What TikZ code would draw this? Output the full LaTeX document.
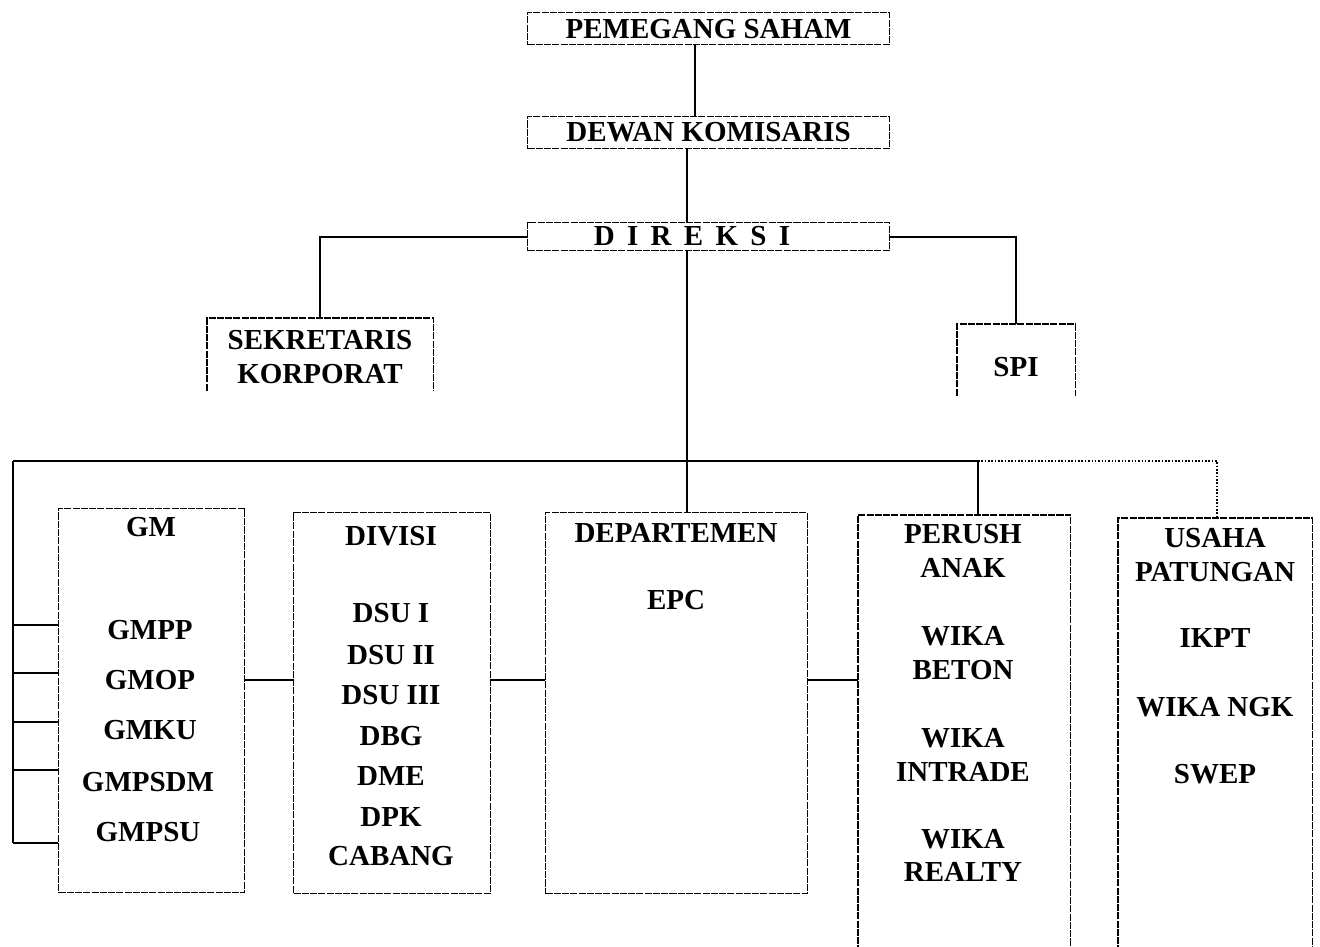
\documentclass[tikz,border=0pt]{standalone}
\usepackage{fontspec}
\setmainfont{Liberation Serif}
\begin{document}
\begin{tikzpicture}[x=0.02cm,y=-0.02cm,font=\fontsize{16.5}{16.5}\bfseries,
  caja/.style={draw,line width=0.7pt,dash pattern=on 4pt off 0.7pt,inner sep=0pt,anchor=north west},
  abierta/.style={inner sep=0pt,anchor=north west},
  borde/.style={line width=0.7pt,dash pattern=on 4pt off 0.7pt},
  linea/.style={line width=1.1pt}]
\useasboundingbox (0,0) rectangle (1320,947);
% Ejes
\coordinate (ejeA) at (695,0);
\coordinate (ejeB) at (687,0);
\coordinate (busL) at (13,461);
\coordinate (busP) at (978,461);
\coordinate (busU) at (1217,461);
\coordinate (enlace) at (0,680);
% Cajas superiores
\node[caja,minimum width=7.24cm,minimum height=0.64cm] (pemegang) at (527,12) {};
\node (tpemegang) at (pemegang) {PEMEGANG SAHAM};
\node[caja,minimum width=7.24cm,minimum height=0.64cm] (dewan) at (527,116) {};
\node (tdewan) at (dewan) {DEWAN KOMISARIS};
\node[caja,minimum width=7.24cm,minimum height=0.56cm] (direksi) at (527,222) {};
\node (tdireksi) at (692,236) {\spaceskip=7pt D I R E K S I};
% Staf
\node[abierta,minimum width=4.52cm,minimum height=1.44cm] (sek) at (207,318) {};
\draw[borde] (sek.south west) -- (sek.north west) -- (sek.north east) -- (sek.south east);
\node (tsek1) at (320,340) {SEKRETARIS};
\node (tsek2) at (320,374) {KORPORAT};
\node[abierta,minimum width=2.36cm,minimum height=1.42cm] (spi) at (957,324) {};
\draw[borde] (spi.south west) -- (spi.north west) -- (spi.north east) -- (spi.south east);
\node (tspi) at (1016,367) {SPI};
% Cajas inferiores
\node[caja,minimum width=3.72cm,minimum height=7.68cm] (gm) at (58,508) {};
\node[caja,minimum width=3.94cm,minimum height=7.62cm] (divisi) at (293,512) {};
\node[caja,minimum width=5.24cm,minimum height=7.62cm] (dept) at (545,512) {};
\node[abierta,minimum width=4.24cm,minimum height=8.9cm] (perush) at (858,515) {};
\draw[borde] (perush.south west) -- (perush.north west) -- (perush.north east) -- (perush.south east);
\node[abierta,minimum width=3.88cm,minimum height=8.84cm] (usaha) at (1118,518) {};
\draw[borde] (usaha.south west) -- (usaha.north west) -- (usaha.north east) -- (usaha.south east);
% Textos GM
\node (tgm) at (151,527) {GM};
\node (tgmpp) at (150,630) {GMPP};
\node (tgmop) at (150,680) {GMOP};
\node (tgmku) at (150,730) {GMKU};
\node (tgmpsdm) at (148,782) {GMPSDM};
\node (tgmpsu) at (148,832) {GMPSU};
% Textos DIVISI
\node (tdivisi) at (391,536) {DIVISI};
\node (tdsu1) at (391,613) {DSU I};
\node (tdsu2) at (391,655) {DSU II};
\node (tdsu3) at (391,695) {DSU III};
\node (tdbg) at (391,736) {DBG};
\node (tdme) at (391,776) {DME};
\node (tdpk) at (391,817) {DPK};
\node (tcabang) at (391,856) {CABANG};
% Textos DEPARTEMEN
\node (tdept) at (676,533) {DEPARTEMEN};
\node (tepc) at (676,600) {EPC};
% Textos PERUSH ANAK
\node (tperush) at (963,534) {PERUSH};
\node (tanak) at (963,568) {ANAK};
\node (twika1) at (963,636) {WIKA};
\node (tbeton) at (963,670) {BETON};
\node (twika2) at (963,738) {WIKA};
\node (tintrade) at (963,772) {INTRADE};
\node (twika3) at (963,839) {WIKA};
\node (trealty) at (963,872) {REALTY};
% Textos USAHA PATUNGAN
\node (tusaha) at (1215,538) {USAHA};
\node (tpatungan) at (1215,572) {PATUNGAN};
\node (tikpt) at (1215,638) {IKPT};
\node (twikangk) at (1215,707) {WIKA NGK};
\node (tswep) at (1215,774) {SWEP};
% Conectores
\draw[linea] (pemegang.south -| ejeA) -- (dewan.north -| ejeA);
\draw[linea] (dewan.south -| ejeB) -- (direksi.north -| ejeB);
\draw[linea] (direksi.west) -| (sek.north);
\draw[linea] (direksi.east) -| (spi.north);
\draw[linea] (direksi.south -| ejeB) -- (dept.north -| ejeB);
\draw[linea] (busL) -- (busP) -- (perush.north -| busP);
\draw[line width=0.9pt,densely dotted] (busP) -- (busU) -- (usaha.north -| busU);
\draw[linea] (busL) -- (busL |- 0,843);
\foreach \y in {625,673,722,770,843}
        \draw[linea] (busL |- 0,\y) -- (gm.west |- 0,\y);
\draw[linea] (gm.east |- enlace) -- (divisi.west |- enlace);
\draw[linea] (divisi.east |- enlace) -- (dept.west |- enlace);
\draw[linea] (dept.east |- enlace) -- (perush.west |- enlace);
\end{tikzpicture}
\end{document}
